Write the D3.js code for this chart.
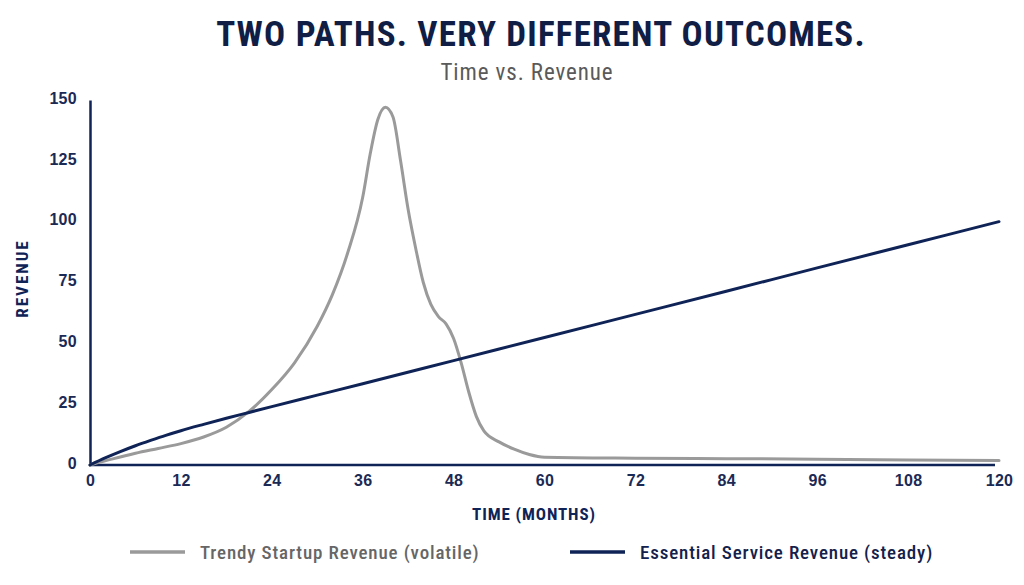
<!DOCTYPE html>
<html>
<head>
<meta charset="utf-8">
<script src="https://cdn.jsdelivr.net/npm/d3@7"></script>
<style>
  body { margin: 0; background: #fff; }
  svg { display: block; font-family: "Roboto Condensed", "Liberation Sans Narrow", "DejaVu Sans Condensed", sans-serif; }
  .tick text { font-size: 16px; font-weight: bold; fill: #1b2a55; letter-spacing: 0.3px; }
</style>
</head>
<body>
<div id="chart"></div>
<script>
// months sampled for each series
var startupMonths = [0, 3, 6, 9, 12, 15, 18, 21, 24, 27, 30, 32, 34, 36, 37, 38, 39, 40, 41, 42, 43, 44, 45, 46, 47, 48, 49, 50, 51, 52, 54, 56, 58, 60, 72, 84, 96, 108, 120];
var startupRevenue = [0, 2.5, 4.8, 6.8, 8.8, 11.5, 15.5, 22, 31, 42, 57, 70, 87, 110, 128, 142, 147, 143, 125, 105, 89, 75, 66, 61, 58, 52, 42, 30, 20, 14, 9.5, 6.5, 4.3, 3.2, 2.8, 2.6, 2.4, 2.1, 1.8];
var serviceMonths = [0, 2, 4, 6, 8, 10, 12, 15, 18, 21, 24, 30, 36, 48, 60, 72, 84, 96, 108, 120];
var serviceRevenue = [0, 2.9, 5.5, 7.9, 10.1, 12.2, 14.1, 16.7, 19.2, 21.6, 24, 28.7, 33.4, 42.9, 52.4, 61.9, 71.4, 81, 90.5, 100];
var xTicks = [0, 12, 24, 36, 48, 60, 72, 84, 96, 108, 120];
var yTicks = [0, 25, 50, 75, 100, 125, 150];

var W = 1024, H = 585;
var margin = { top: 100, right: 25, bottom: 120, left: 90 };
var w = W - margin.left - margin.right, h = H - margin.top - margin.bottom;
var navy = '#0f2357', grey = '#9a9a9a';

var svg = d3.select('#chart').append('svg')
  .attr('width', W)
  .attr('height', H);

var g = svg.append('g').attr('transform', translation(margin.left, margin.top));

var x = d3.scaleLinear().domain([0, 120]).range([0, 909]);
var y = d3.scaleLinear().domain([0, 150]).range([h, 0]);

//titles
svg.append('text')
  .attr('x', 541).attr('y', 46)
  .attr('text-anchor', 'middle')
  .style('font-size', '35px').style('font-weight', 'bold').style('fill', '#101d45')
  .style('letter-spacing', '1.2px')
  .text('TWO PATHS. VERY DIFFERENT OUTCOMES.');

svg.append('text')
  .attr('x', 527).attr('y', 80)
  .attr('text-anchor', 'middle')
  .style('font-size', '23px').style('fill', '#5a5a5a')
  .style('letter-spacing', '0.9px')
  .text('Time vs. Revenue');

//axes
var xAxis = g.append('g')
  .attr('transform', translation(0, h))
  .call(d3.axisBottom(x).tickValues(xTicks).tickSize(0).tickPadding(10));
xAxis.select('.domain').attr('d', 'M0,0H' + (w - 4)).attr('stroke', navy).attr('stroke-width', 2.5);

var yAxis = g.append('g')
  .call(d3.axisLeft(y).tickValues(yTicks).tickSize(0).tickPadding(13));
yAxis.select('.domain').attr('stroke', navy).attr('stroke-width', 2.5);
yAxis.selectAll('.tick text').attr('dy', '0.2em');

g.append('text')
  .attr('x', 444).attr('y', h + 55)
  .attr('text-anchor', 'middle')
  .style('font-size', '17px').style('font-weight', 'bold').style('fill', navy)
  .style('letter-spacing', '0.9px')
  .text('TIME (MONTHS)');

g.append('text')
  .attr('transform', translation(-62, h / 2 - 4) + 'rotate(-90)')
  .attr('text-anchor', 'middle')
  .style('font-size', '17px').style('font-weight', 'bold').style('fill', navy)
  .style('letter-spacing', '2px')
  .text('REVENUE');

//lines
var line = d3.line()
  .x(function (d) { return x(d[0]); })
  .y(function (d) { return y(d[1]); })
  .curve(d3.curveMonotoneX);

g.append('path')
  .datum(d3.zip(startupMonths, startupRevenue))
  .attr('d', line)
  .attr('fill', 'none').attr('stroke', grey).attr('stroke-width', 3).attr('stroke-linecap', 'round');

g.append('path')
  .datum(d3.zip(serviceMonths, serviceRevenue))
  .attr('d', line)
  .attr('fill', 'none').attr('stroke', navy).attr('stroke-width', 3).attr('stroke-linecap', 'round');

//legend
var legend = [
  { label: 'Trendy Startup Revenue (volatile)', color: grey, text: '#666', x: 130 },
  { label: 'Essential Service Revenue (steady)', color: navy, text: '#14214b', x: 570 }
];
var lg = svg.selectAll('.legend').data(legend).enter().append('g')
  .attr('class', 'legend')
  .attr('transform', function (d) { return translation(d.x, 552); });
lg.append('line')
  .attr('x1', 0).attr('x2', 55).attr('y1', 0).attr('y2', 0)
  .attr('stroke', function (d) { return d.color; }).attr('stroke-width', 3.5);
lg.append('text')
  .attr('x', 70).attr('y', 7)
  .style('font-size', '19px').style('font-weight', 500)
  .style('letter-spacing', '0.85px')
  .style('fill', function (d) { return d.text; })
  .text(function (d) { return d.label; });

function translation(x, y) {
  return 'translate(' + x + ',' + y + ')';
}
</script>
</body>
</html>
